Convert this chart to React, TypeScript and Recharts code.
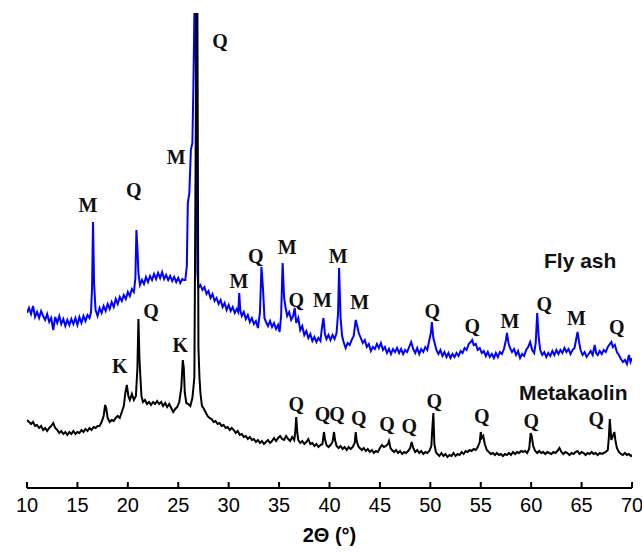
import React from 'react';
import { LineChart, Line, XAxis, YAxis, ReferenceDot } from 'recharts';

// 2-theta (deg) vs intensity (arbitrary units, stacked patterns)
const flyAsh: [number, number][] = [
  [10.0, 175], [10.2, 180], [10.4, 174], [10.6, 182], [10.8, 171], [11.0, 176], [11.2, 170], [11.4, 177],
  [11.6, 172], [11.8, 168], [12.0, 174], [12.2, 166], [12.4, 170], [12.6, 158], [12.8, 171], [13.0, 165],
  [13.2, 172], [13.4, 164], [13.6, 169], [13.8, 162], [14.0, 168], [14.2, 163], [14.4, 169], [14.6, 164],
  [14.8, 170], [15.0, 163], [15.2, 171], [15.4, 165], [15.6, 172], [15.8, 167], [16.0, 173], [16.2, 170],
  [16.35, 176], [16.45, 200], [16.55, 266], [16.65, 205], [16.8, 178], [17.0, 172], [17.2, 180], [17.4, 175],
  [17.6, 182], [17.8, 177], [18.0, 184], [18.2, 179], [18.4, 186], [18.6, 181], [18.8, 189], [19.0, 184],
  [19.2, 191], [19.4, 187], [19.6, 193], [19.8, 189], [20.0, 196], [20.2, 192], [20.4, 199], [20.6, 196],
  [20.75, 210], [20.85, 258], [20.95, 240], [21.05, 215], [21.2, 203], [21.4, 208], [21.6, 204], [21.8, 211],
  [22.0, 206], [22.2, 212], [22.4, 208], [22.6, 214], [22.8, 209], [23.0, 215], [23.2, 210], [23.4, 216],
  [23.6, 209], [23.8, 213], [24.0, 208], [24.2, 212], [24.4, 207], [24.6, 211], [24.8, 206], [25.0, 210],
  [25.2, 205], [25.4, 209], [25.55, 208], [25.7, 208], [25.85, 222], [25.95, 285], [26.1, 295], [26.25, 338],
  [26.4, 345], [26.5, 400], [26.6, 474], [26.72, 474], [26.8, 320], [26.9, 215], [27.0, 200], [27.2, 203],
  [27.4, 198], [27.6, 201], [27.8, 194], [28.0, 197], [28.2, 190], [28.4, 194], [28.6, 187], [28.8, 190],
  [29.0, 184], [29.2, 188], [29.4, 181], [29.6, 185], [29.8, 178], [30.0, 183], [30.2, 177], [30.4, 181],
  [30.6, 175], [30.8, 179], [30.95, 176], [31.05, 195], [31.15, 178], [31.3, 172], [31.5, 176], [31.7, 169],
  [31.9, 173], [32.1, 166], [32.3, 170], [32.5, 164], [32.7, 167], [32.9, 160], [33.1, 175], [33.25, 221],
  [33.4, 200], [33.55, 170], [33.7, 166], [33.9, 162], [34.1, 167], [34.3, 161], [34.5, 165], [34.7, 159],
  [34.9, 163], [35.05, 156], [35.2, 172], [35.35, 225], [35.5, 190], [35.65, 180], [35.8, 172], [36.0, 176],
  [36.2, 168], [36.4, 172], [36.55, 180], [36.7, 165], [36.9, 170], [37.1, 158], [37.3, 162], [37.5, 153],
  [37.7, 157], [37.9, 150], [38.1, 154], [38.3, 147], [38.5, 151], [38.7, 146], [38.9, 150], [39.1, 147],
  [39.25, 160], [39.4, 170], [39.55, 154], [39.7, 149], [39.9, 153], [40.1, 148], [40.3, 153], [40.5, 149],
  [40.7, 155], [40.85, 175], [40.95, 220], [41.1, 170], [41.25, 152], [41.4, 146], [41.6, 140], [41.8, 145],
  [42.0, 143], [42.2, 148], [42.4, 152], [42.6, 168], [42.75, 162], [42.9, 155], [43.1, 150], [43.3, 145],
  [43.5, 148], [43.7, 141], [43.9, 144], [44.1, 137], [44.3, 141], [44.5, 139], [44.7, 144], [44.9, 140],
  [45.1, 145], [45.3, 138], [45.5, 141], [45.7, 135], [45.9, 139], [46.1, 134], [46.3, 139], [46.5, 136],
  [46.7, 140], [46.9, 135], [47.1, 139], [47.3, 134], [47.5, 138], [47.7, 136], [47.9, 141], [48.1, 146],
  [48.3, 139], [48.5, 135], [48.7, 140], [48.9, 134], [49.1, 139], [49.3, 136], [49.5, 141], [49.7, 138],
  [49.9, 148], [50.05, 155], [50.15, 166], [50.3, 150], [50.45, 144], [50.6, 138], [50.8, 134], [51.0, 138],
  [51.2, 132], [51.4, 136], [51.6, 131], [51.8, 135], [52.0, 130], [52.2, 134], [52.4, 131], [52.6, 135],
  [52.8, 132], [53.0, 137], [53.2, 135], [53.4, 140], [53.6, 138], [53.8, 144], [54.0, 146], [54.15, 148],
  [54.3, 143], [54.5, 144], [54.7, 138], [54.9, 140], [55.1, 135], [55.3, 137], [55.5, 132], [55.7, 136],
  [55.9, 131], [56.1, 134], [56.3, 130], [56.5, 135], [56.7, 131], [56.9, 136], [57.1, 134], [57.3, 139],
  [57.5, 148], [57.6, 155], [57.75, 145], [57.9, 140], [58.1, 136], [58.3, 139], [58.5, 133], [58.7, 137],
  [58.9, 130], [59.1, 134], [59.3, 132], [59.5, 138], [59.7, 141], [59.9, 146], [60.1, 138], [60.3, 135],
  [60.45, 145], [60.6, 175], [60.75, 150], [60.9, 138], [61.1, 133], [61.3, 136], [61.5, 131], [61.7, 135],
  [61.9, 132], [62.1, 137], [62.3, 133], [62.5, 138], [62.7, 134], [62.9, 138], [63.1, 135], [63.3, 140],
  [63.5, 136], [63.7, 139], [63.9, 134], [64.1, 138], [64.3, 140], [64.45, 148], [64.6, 156], [64.75, 146],
  [64.9, 138], [65.1, 133], [65.3, 136], [65.5, 131], [65.7, 134], [65.9, 137], [66.1, 133], [66.3, 143],
  [66.45, 135], [66.6, 133], [66.8, 137], [67.0, 134], [67.2, 138], [67.4, 136], [67.6, 141], [67.8, 144],
  [67.95, 146], [68.1, 141], [68.3, 143], [68.5, 136], [68.7, 133], [68.9, 129], [69.1, 126], [69.3, 128],
  [69.5, 124], [69.7, 133], [69.85, 126], [70.0, 130],
];

const metakaolin: [number, number][] = [
  [10.0, 68], [10.2, 66], [10.4, 64], [10.6, 66], [10.8, 62], [11.0, 63], [11.2, 60], [11.4, 62],
  [11.6, 58], [11.8, 60], [12.0, 57], [12.2, 60], [12.4, 62], [12.6, 65], [12.8, 60], [13.0, 58],
  [13.2, 55], [13.4, 57], [13.6, 54], [13.8, 56], [14.0, 53], [14.2, 56], [14.4, 54], [14.6, 57],
  [14.8, 54], [15.0, 56], [15.2, 55], [15.4, 58], [15.6, 56], [15.8, 59], [16.0, 57], [16.2, 60],
  [16.4, 58], [16.6, 61], [16.8, 60], [17.0, 62], [17.2, 62], [17.4, 66], [17.6, 72], [17.75, 83],
  [17.85, 80], [18.0, 70], [18.2, 66], [18.4, 68], [18.6, 67], [18.8, 70], [19.0, 72], [19.2, 70],
  [19.4, 76], [19.6, 82], [19.75, 95], [19.9, 103], [20.05, 92], [20.2, 88], [20.4, 94], [20.6, 88],
  [20.8, 92], [20.95, 120], [21.05, 169], [21.15, 130], [21.25, 110], [21.35, 92], [21.5, 86], [21.7, 88],
  [21.9, 84], [22.1, 86], [22.3, 83], [22.5, 86], [22.7, 84], [22.9, 87], [23.1, 84], [23.3, 86],
  [23.5, 82], [23.7, 85], [23.9, 81], [24.1, 84], [24.3, 80], [24.5, 76], [24.7, 79], [24.9, 81],
  [25.1, 86], [25.3, 100], [25.45, 128], [25.55, 120], [25.65, 95], [25.8, 85], [26.0, 84], [26.2, 82],
  [26.4, 90], [26.5, 100], [26.6, 111], [26.7, 290], [26.8, 474], [26.9, 474], [27.0, 141], [27.1, 111],
  [27.2, 95], [27.35, 82], [27.5, 80], [27.7, 76], [27.9, 72], [28.1, 70], [28.3, 69], [28.5, 66],
  [28.7, 67], [28.9, 64], [29.1, 65], [29.3, 62], [29.5, 63], [29.7, 60], [29.9, 61], [30.1, 58],
  [30.3, 60], [30.5, 58], [30.7, 55], [30.9, 57], [31.1, 53], [31.3, 54], [31.5, 51], [31.7, 52],
  [31.9, 49], [32.1, 51], [32.3, 48], [32.5, 49], [32.7, 46], [32.9, 48], [33.1, 45], [33.3, 47],
  [33.5, 44], [33.7, 46], [33.9, 48], [34.1, 45], [34.3, 47], [34.5, 50], [34.7, 47], [34.9, 50],
  [35.1, 52], [35.3, 49], [35.5, 48], [35.7, 52], [35.9, 49], [36.1, 47], [36.3, 51], [36.5, 48],
  [36.6, 55], [36.7, 71], [36.8, 56], [36.9, 48], [37.1, 45], [37.3, 47], [37.5, 44], [37.7, 46],
  [37.9, 49], [38.1, 44], [38.3, 45], [38.5, 42], [38.7, 44], [38.9, 41], [39.1, 43], [39.3, 44],
  [39.45, 56], [39.55, 49], [39.7, 43], [39.9, 41], [40.1, 43], [40.3, 46], [40.45, 56], [40.55, 48],
  [40.7, 42], [40.9, 40], [41.1, 42], [41.3, 39], [41.5, 41], [41.7, 38], [41.9, 41], [42.1, 39],
  [42.3, 41], [42.5, 45], [42.6, 56], [42.7, 47], [42.85, 42], [43.0, 40], [43.2, 38], [43.4, 40],
  [43.6, 37], [43.8, 39], [44.0, 36], [44.2, 38], [44.4, 35], [44.6, 37], [44.8, 36], [45.0, 40],
  [45.2, 43], [45.4, 41], [45.6, 42], [45.8, 44], [45.9, 47], [46.05, 40], [46.2, 38], [46.4, 36],
  [46.6, 38], [46.8, 35], [47.0, 37], [47.2, 34], [47.4, 36], [47.6, 35], [47.8, 37], [48.0, 40],
  [48.15, 46], [48.3, 40], [48.5, 36], [48.7, 38], [48.9, 35], [49.1, 37], [49.3, 34], [49.5, 36],
  [49.7, 35], [49.9, 37], [50.1, 42], [50.2, 60], [50.3, 75], [50.4, 44], [50.55, 36], [50.7, 34],
  [50.9, 32], [51.1, 35], [51.3, 32], [51.5, 34], [51.7, 31], [51.9, 33], [52.1, 32], [52.3, 35],
  [52.5, 32], [52.7, 34], [52.9, 33], [53.1, 36], [53.3, 34], [53.5, 37], [53.7, 36], [53.9, 38],
  [54.1, 37], [54.3, 39], [54.5, 38], [54.7, 41], [54.9, 46], [55.0, 56], [55.1, 50], [55.25, 52],
  [55.4, 44], [55.6, 38], [55.8, 36], [56.0, 34], [56.2, 35], [56.4, 33], [56.6, 35], [56.8, 33],
  [57.0, 34], [57.2, 32], [57.4, 34], [57.6, 33], [57.8, 35], [58.0, 33], [58.2, 36], [58.4, 34],
  [58.6, 36], [58.8, 35], [59.0, 37], [59.2, 36], [59.4, 37], [59.6, 35], [59.8, 39], [59.95, 55],
  [60.05, 52], [60.2, 42], [60.4, 37], [60.6, 35], [60.8, 37], [61.0, 35], [61.2, 36], [61.4, 34],
  [61.6, 36], [61.8, 35], [62.0, 34], [62.2, 36], [62.4, 35], [62.6, 37], [62.8, 40], [63.0, 36],
  [63.2, 34], [63.4, 36], [63.6, 35], [63.8, 33], [64.0, 35], [64.2, 34], [64.4, 36], [64.6, 37],
  [64.8, 34], [65.0, 36], [65.2, 35], [65.4, 33], [65.6, 35], [65.8, 34], [66.0, 36], [66.2, 34],
  [66.4, 35], [66.6, 33], [66.8, 35], [67.0, 34], [67.2, 35], [67.4, 36], [67.6, 38], [67.7, 50],
  [67.8, 69], [67.95, 48], [68.1, 52], [68.25, 56], [68.35, 48], [68.5, 40], [68.7, 36], [68.9, 34],
  [69.1, 33], [69.3, 35], [69.5, 33], [69.7, 34], [69.9, 32], [70.0, 33],
];

// phase labels: [2theta, height, phase]  M = mullite, Q = quartz, K = kaolinite
const flyAshMarks: [number, number, string][] = [
  [16.05, 283, 'M'], [20.6, 298, 'Q'], [24.8, 331, 'M'], [29.15, 447, 'Q'], [31.03, 207, 'M'],
  [32.7, 232, 'Q'], [35.8, 241, 'M'], [36.7, 188, 'Q'], [39.3, 188, 'M'], [40.85, 232, 'M'],
  [43.0, 186, 'M'], [50.2, 177, 'Q'], [54.15, 162, 'Q'], [57.9, 167, 'M'], [61.3, 184, 'Q'],
  [64.5, 170, 'M'], [68.5, 161, 'Q'],
];

const metakaolinMarks: [number, number, string][] = [
  [19.2, 122, 'K'], [22.3, 177, 'Q'], [25.2, 143, 'K'], [36.7, 84, 'Q'], [39.3, 74, 'Q'],
  [40.75, 74, 'Q'], [42.9, 70, 'Q'], [45.7, 64, 'Q'], [47.9, 62, 'Q'], [50.4, 87, 'Q'],
  [55.1, 72, 'Q'], [60.0, 67, 'Q'], [66.45, 69, 'Q'],
];

const seriesNames: [number, number, string][] = [
  [64.86, 227, 'Fly ash'],
  [64.17, 95, 'Metakaolin'],
];

const thetaTicks = [10, 15, 20, 25, 30, 35, 40, 45, 50, 55, 60, 65, 70];

const toRows = (pts: [number, number][]) => pts.map(([theta, counts]) => ({ theta, counts }));

const App = () => {
  const marks = [...flyAshMarks, ...metakaolinMarks];
  return (
    <div style={{ position: 'absolute', left: 0, top: 0, background: '#fff' }}>
      <LineChart width={642} height={556} margin={{ top: 10, right: 10, bottom: 0, left: 27 }}>
        <XAxis
          dataKey="theta"
          type="number"
          domain={[10, 70]}
          ticks={thetaTicks}
          allowDataOverflow
          height={68}
          stroke="#000"
          strokeWidth={2}
          tickSize={-6}
          tickMargin={16}
          tick={{ fill: '#000', fontSize: 20, fontFamily: '"Liberation Sans", Arial, sans-serif' }}
          label={{
            value: '2Θ (°)',
            position: 'insideBottom',
            offset: 14,
            fill: '#000',
            fontSize: 20,
            fontWeight: 'bold',
            fontFamily: '"Liberation Sans", Arial, sans-serif',
          }}
        />
        <YAxis type="number" domain={[0, 478]} allowDataOverflow hide />
        <Line
          data={toRows(flyAsh)}
          dataKey="counts"
          type="linear"
          stroke="#0000ff"
          strokeWidth={2}
          dot={false}
          isAnimationActive={false}
        />
        <Line
          data={toRows(metakaolin)}
          dataKey="counts"
          type="linear"
          stroke="#000"
          strokeWidth={2}
          dot={false}
          isAnimationActive={false}
        />
        {marks.map(([theta, h, phase], i) => (
          <ReferenceDot
            key={'m' + i}
            x={theta}
            y={h}
            r={0}
            fill="none"
            stroke="none"
            label={{
              value: phase,
              position: 'center',
              fill: '#111',
              fontSize: 20,
              fontWeight: 'bold',
              fontFamily: '"Liberation Serif", "Times New Roman", serif',
            }}
          />
        ))}
        {seriesNames.map(([theta, h, name]) => (
          <ReferenceDot
            key={name}
            x={theta}
            y={h}
            r={0}
            fill="none"
            stroke="none"
            label={{
              value: name,
              position: 'center',
              fill: '#111',
              fontSize: 21,
              fontWeight: 'bold',
              fontFamily: '"Liberation Sans", Arial, sans-serif',
            }}
          />
        ))}
      </LineChart>
    </div>
  );
};

export default App;
